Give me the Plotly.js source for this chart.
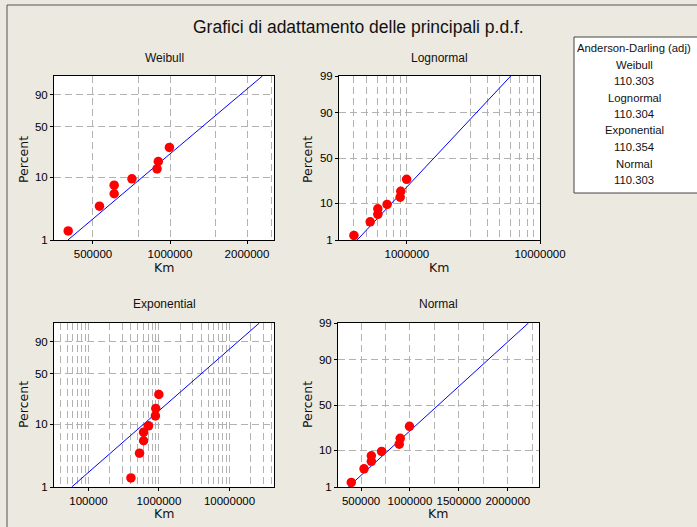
<!DOCTYPE html>
<html>
<head>
<meta charset="utf-8">
<script src="https://cdn.plot.ly/plotly-3.0.1.min.js"></script>
<style>html,body{margin:0;padding:0;background:#ECE9E0;}#chart{width:697px;height:527px;}</style>
</head>
<body>
<div id="chart"></div>
<script>
// ---- data ----
const km = [400000, 530000, 605000, 605000, 710000, 890000, 900000, 995000];
const percent = [1.4, 3.5, 5.5, 7.5, 9.4, 13.3, 17.2, 27.3];
const distNames = ['Weibull', 'Lognormal', 'Exponential', 'Normal'];
const adValues = ['110.303', '110.304', '110.354', '110.303'];
const weibullParams = [3.5, 1485000];        // shape, scale
const lognormalParams = [14.284, 0.571];     // location (ln), scale (ln)
const exponentialParams = [5750000];         // mean
const normalParams = [1290000, 396000];      // mean, std dev
const fitPercent = [1, 10, 50, 90, 99];
const yTicksSev = [1, 10, 50, 90];
const yTicksNorm = [1, 10, 50, 90, 99];
const weibullXTicks = [500000, 1000000, 2000000];
const weibullXMinor = [750000, 1500000, 2500000];
const lognormalXTicks = [1000000, 10000000];
const lognormalXMinor = [400000, 500000, 600000, 700000, 800000, 900000, 3000000, 4000000, 5000000, 6000000, 7000000, 8000000, 9000000];
const exponentialXTicks = [100000, 1000000, 10000000];
const exponentialXMinor = [40000, 50000, 60000, 70000, 80000, 90000, 200000, 300000, 400000, 500000, 600000, 700000, 800000, 900000, 2000000, 3000000, 4000000, 5000000, 6000000, 7000000, 8000000, 9000000, 20000000, 30000000, 40000000];
const normalXTicks = [500000, 1000000, 1500000, 2000000];
const normalXMinor = [750000, 1250000, 1750000, 2250000];

// ---- probability scale helpers ----
function invNorm(p) {
  const a = [-3.969683028665376e+01, 2.209460984245205e+02, -2.759285104469687e+02, 1.383577518672690e+02, -3.066479806614716e+01, 2.506628277459239e+00];
  const b = [-5.447609879822406e+01, 1.615858368580409e+02, -1.556989798598866e+02, 6.680131188771972e+01, -1.328068155288572e+01];
  const c = [-7.784894002430293e-03, -3.223964580411365e-01, -2.400758277161838e+00, -2.549732539343734e+00, 4.374664141464968e+00, 2.938163982698783e+00];
  const d = [7.784695709041462e-03, 3.224671290700398e-01, 2.445134137142996e+00, 3.754408661907416e+00];
  const plow = 0.02425, phigh = 1 - plow;
  let q, r;
  if (p < plow) {
    q = Math.sqrt(-2 * Math.log(p));
    return (((((c[0]*q+c[1])*q+c[2])*q+c[3])*q+c[4])*q+c[5]) / ((((d[0]*q+d[1])*q+d[2])*q+d[3])*q+1);
  } else if (p <= phigh) {
    q = p - 0.5; r = q*q;
    return (((((a[0]*r+a[1])*r+a[2])*r+a[3])*r+a[4])*r+a[5])*q / (((((b[0]*r+b[1])*r+b[2])*r+b[3])*r+b[4])*r+1);
  } else {
    q = Math.sqrt(-2 * Math.log(1 - p));
    return -(((((c[0]*q+c[1])*q+c[2])*q+c[3])*q+c[4])*q+c[5]) / ((((d[0]*q+d[1])*q+d[2])*q+d[3])*q+1);
  }
}
const sev = p => Math.log(-Math.log(1 - p / 100));
const nrm = p => invNorm(p / 100);

// ---- fitted lines ----
const weibullLineX = fitPercent.map(p => weibullParams[1] * Math.pow(-Math.log(1 - p/100), 1 / weibullParams[0]));
const lognormalLineX = fitPercent.map(p => Math.exp(lognormalParams[0] + lognormalParams[1] * nrm(p)));
const exponentialLineX = fitPercent.map(p => exponentialParams[0] * (-Math.log(1 - p/100)));
const normalLineX = fitPercent.map(p => normalParams[0] + normalParams[1] * nrm(p));

const W = 697, H = 527;
const px = x => x / W;
const py = y => 1 - y / H;

const FONT = 'Liberation Sans, Arial, sans-serif';
const GRID = '#B2B2B2';
const DASH = '7px,4px';
const markerStyle = {color: '#FF0000', size: 9.5, symbol: 'circle'};
const lineStyle = {color: '#0000FF', width: 1};

function pts(xa, ya, tf) {
  return {x: km, y: percent.map(tf), xaxis: xa, yaxis: ya, type: 'scatter', mode: 'markers', marker: markerStyle, showlegend: false, hoverinfo: 'x+y'};
}
function fit(xs, xa, ya, tf) {
  return {x: xs, y: fitPercent.map(tf), xaxis: xa, yaxis: ya, type: 'scatter', mode: 'lines', line: lineStyle, showlegend: false, hoverinfo: 'skip'};
}

const traces = [
  fit(weibullLineX, 'x', 'y', sev), pts('x', 'y', sev),
  fit(lognormalLineX, 'x2', 'y2', nrm), pts('x2', 'y2', nrm),
  fit(exponentialLineX, 'x3', 'y3', sev), pts('x3', 'y3', sev),
  fit(normalLineX, 'x4', 'y4', nrm), pts('x4', 'y4', nrm)
];

function xax(dom, anchor, type, range, ticks, minor) {
  return {
    domain: dom, anchor: anchor, type: type, range: range,
    tickmode: 'array', tickvals: ticks, ticktext: ticks.map(String),
    showgrid: true, gridcolor: GRID, griddash: DASH, gridwidth: 1,
    minor: {tickmode: 'array', tickvals: minor, showgrid: true, gridcolor: GRID, griddash: DASH, ticks: ''},
    showline: true, mirror: true, linecolor: '#000', linewidth: 1,
    ticks: 'outside', ticklen: 3, tickcolor: '#000',
    tickfont: {family: FONT, size: 11.5, color: '#000'},
    zeroline: false, fixedrange: true
  };
}
function yax(dom, anchor, tf, ticks, range) {
  return {
    domain: dom, anchor: anchor, type: 'linear', range: range,
    tickmode: 'array', tickvals: ticks.map(tf), ticktext: ticks.map(String),
    showgrid: true, gridcolor: GRID, griddash: DASH, gridwidth: 1,
    showline: true, mirror: true, linecolor: '#000', linewidth: 1,
    ticks: 'outside', ticklen: 3, tickcolor: '#000',
    tickfont: {family: FONT, size: 11.5, color: '#000'},
    zeroline: false, fixedrange: true
  };
}

const topY = [py(240), py(76)];
const botY = [py(487), py(323)];
const leftX = [px(54), px(274)];

const layout = {
  width: W, height: H,
  margin: {l: 0, r: 0, t: 0, b: 0},
  paper_bgcolor: '#ECE9E0', plot_bgcolor: '#FFFFFF',
  showlegend: false,
  xaxis: xax(leftX, 'y', 'log', [Math.log10(352000), Math.log10(2550000)], weibullXTicks, weibullXMinor),
  yaxis: yax(topY, 'x', sev, yTicksSev, [sev(1), sev(99)]),
  xaxis2: xax([px(339), px(540)], 'y2', 'log', [5.49, 7], lognormalXTicks, lognormalXMinor),
  yaxis2: yax(topY, 'x2', nrm, yTicksNorm, [nrm(1), nrm(99)]),
  xaxis3: xax(leftX, 'y3', 'log', [4.511, 7.631], exponentialXTicks, exponentialXMinor),
  yaxis3: yax(botY, 'x3', sev, yTicksSev, [sev(1), sev(99)]),
  xaxis4: xax([px(338), px(539)], 'y4', 'linear', [264000, 2319000], normalXTicks, normalXMinor),
  yaxis4: yax(botY, 'x4', nrm, yTicksNorm, [nrm(1), nrm(99)]),
  shapes: [
    {type: 'line', xref: 'paper', yref: 'paper', x0: px(7), x1: 1.01, y0: py(5), y1: py(5), line: {color: '#555', width: 1}},
    {type: 'line', xref: 'paper', yref: 'paper', x0: px(7), x1: px(7), y0: py(5), y1: -0.01, line: {color: '#555', width: 1}},
    {type: 'rect', xref: 'paper', yref: 'paper', x0: px(574), x1: px(705), y0: py(193), y1: py(37), line: {color: '#444', width: 1}, fillcolor: '#FFFFFF'}
  ],
  annotations: []
};

const ann = layout.annotations;
const add = (text, x, y, size, family, extra) => ann.push(Object.assign({text: text, xref: 'paper', yref: 'paper', x: px(x), y: py(y), xanchor: 'center', yanchor: 'middle', showarrow: false, font: {family: family || FONT, size: size, color: '#111'}}, extra || {}));

add('Grafici di adattamento delle principali p.d.f.', 358, 27, 17.5, 'Liberation Sans Narrow, Arial Narrow, sans-serif');
const subCenters = [[164, 58], [439, 58], [164, 304], [438, 304]];
distNames.forEach((n, i) => add(n, subCenters[i][0], subCenters[i][1], 12, 'Liberation Sans Narrow, Arial Narrow, sans-serif'));
// axis titles
[[164, 267], [439, 267], [164, 513], [438, 513]].forEach(c => add('Km', c[0], c[1], 12.5, 'DejaVu Sans, sans-serif'));
[[23, 160], [307, 160], [23, 405], [307, 405]].forEach(c => add('Percent', c[0], c[1], 12.5, 'DejaVu Sans, sans-serif', {textangle: -90}));
// legend box text
const legendLines = ['Anderson-Darling (adj)'];
distNames.forEach((n, i) => { legendLines.push(n); legendLines.push(adValues[i]); });
legendLines.forEach((t, i) => add(t, 634, 48 + i * 16.5, 11.3));

Plotly.newPlot('chart', traces, layout, {staticPlot: true, displayModeBar: false});
</script>
</body>
</html>
